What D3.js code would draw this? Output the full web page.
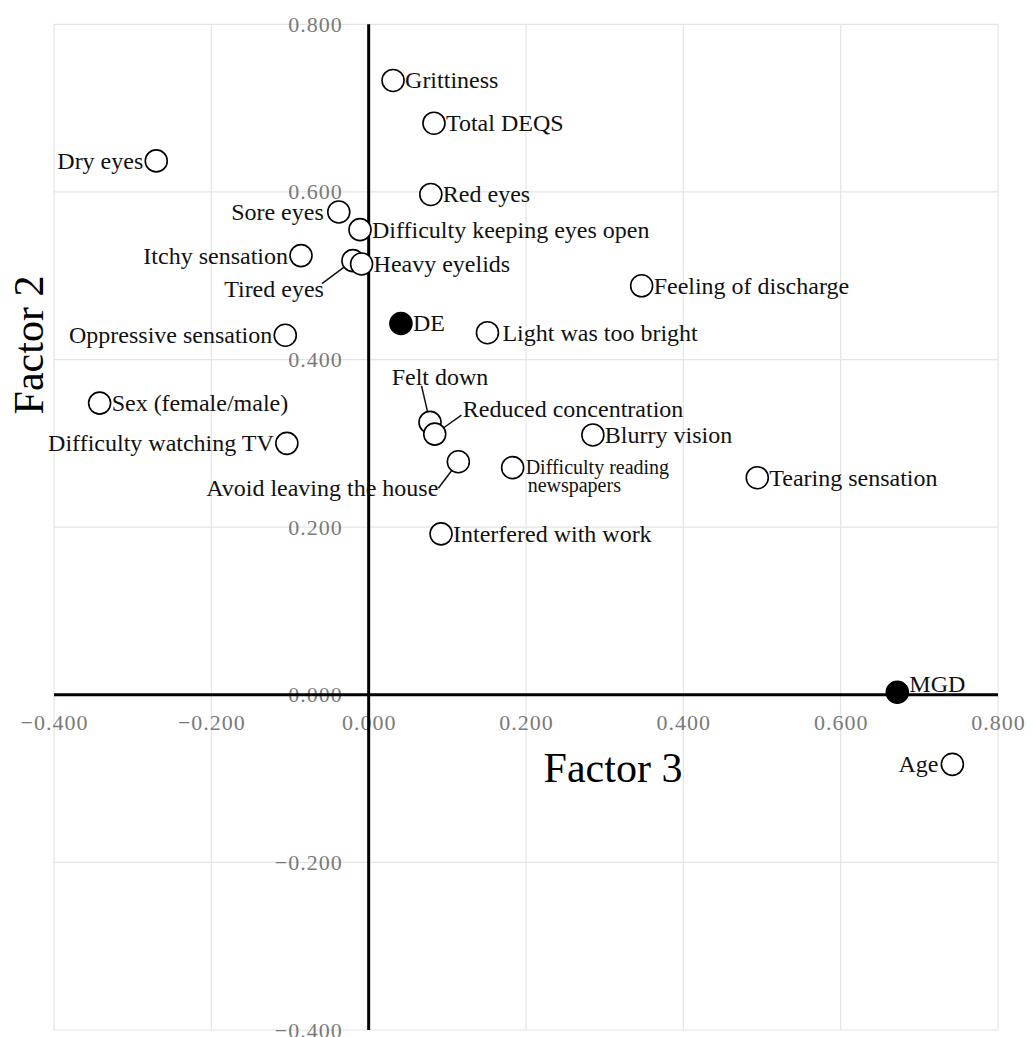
<!DOCTYPE html>
<html>
<head>
<meta charset="utf-8">
<script src="https://cdn.jsdelivr.net/npm/d3@7"></script>
<style>
  html, body { margin: 0; padding: 0; background: #fff; }
  svg { display: block; }
  text { font-family: "Liberation Serif", "Times New Roman", serif; }
</style>
</head>
<body>
<script>
// ---------- data ----------
const categories = [
  "Grittiness", "Total DEQS", "Dry eyes", "Red eyes", "Sore eyes",
  "Difficulty keeping eyes open", "Itchy sensation", "Tired eyes", "Heavy eyelids",
  "DE", "Light was too bright", "Oppressive sensation", "Feeling of discharge",
  "Sex (female/male)", "Difficulty watching TV", "Felt down", "Reduced concentration",
  "Avoid leaving the house", "Difficulty reading newspapers", "Interfered with work",
  "Blurry vision", "Tearing sensation", "MGD", "Age"
];
const factor3 = [
  0.031, 0.083, -0.270, 0.079, -0.038,
  -0.011, -0.086, -0.020, -0.009,
  0.041, 0.151, -0.106, 0.347,
  -0.342, -0.104, 0.078, 0.084,
  0.114, 0.183, 0.092,
  0.285, 0.494, 0.672, 0.742
];
const factor2 = [
  0.733, 0.682, 0.637, 0.597, 0.576,
  0.555, 0.524, 0.518, 0.514,
  0.443, 0.432, 0.429, 0.488,
  0.348, 0.300, 0.325, 0.311,
  0.278, 0.271, 0.192,
  0.310, 0.259, 0.003, -0.083
];
const filledItems = ["DE", "MGD"];
const xTicks = [-0.4, -0.2, 0, 0.2, 0.4, 0.6, 0.8];
const yTicks = [-0.4, -0.2, 0, 0.2, 0.4, 0.6, 0.8];
const xTitle = "Factor 3";
const yTitle = "Factor 2";

// ---------- label layout (positions only) ----------
const labelLayout = {
  "Dry eyes": { anchor: "end", dx: -13 },
  "Sore eyes": { anchor: "end", dx: -15 },
  "Itchy sensation": { anchor: "end", dx: -13 },
  "Tired eyes": { anchor: "end", dx: -29, dy: 36, leader: [-31, 23] },
  "Oppressive sensation": { anchor: "end", dx: -13 },
  "Difficulty watching TV": { anchor: "end", dx: -13 },
  "Felt down": { anchor: "middle", dx: 10, dy: -37, leader: [-8.5, -36.5] },
  "Reduced concentration": { anchor: "start", dx: 28, dy: -17, leader: [26.7, -19] },
  "Avoid leaving the house": { anchor: "end", dx: -20, dy: 34, leader: [-20, 26.5] },
  "Difficulty reading newspapers": { lines: [["Difficulty reading", 13, 6], ["newspapers", 15, 24]], size: 20 },
  "Light was too bright": { anchor: "start", dx: 15 },
  "MGD": { anchor: "start", dx: 12, dy: 0 },
  "Age": { anchor: "end", dx: -14 }
};

// ---------- chart ----------
const W = 1033, H = 1037;
const x = d3.scaleLinear().domain([-0.4, 0.8]).range([54, 998]);
const y = d3.scaleLinear().domain([-0.4, 0.8]).range([1030, 24.3]);
const R = 11;

const svg = d3.select("body").append("svg").attr("width", W).attr("height", H);

// grid
const grid = svg.append("g");
grid.selectAll("line.vx").data(xTicks).join("line")
  .attr("x1", d => x(d)).attr("x2", d => x(d))
  .attr("y1", y(0.8)).attr("y2", y(-0.4))
  .attr("stroke", "#e4e4e4").attr("stroke-width", 1.2);
grid.selectAll("line.hy").data(yTicks).join("line")
  .attr("y1", d => y(d)).attr("y2", d => y(d))
  .attr("x1", x(-0.4)).attr("x2", x(0.8))
  .attr("stroke", "#e4e4e4").attr("stroke-width", 1.2);

// tick labels via axes
const fmt = d3.format(".3f");
const yAxis = svg.append("g").attr("transform", `translate(${x(0)},0)`)
  .call(d3.axisLeft(y).tickValues(yTicks).tickFormat(fmt).tickSize(0).tickPadding(26));
const xAxis = svg.append("g").attr("transform", `translate(0,${y(0)})`)
  .call(d3.axisBottom(x).tickValues(xTicks).tickFormat(fmt).tickSize(0).tickPadding(20));
[xAxis, yAxis].forEach(a => {
  a.select(".domain").remove();
  a.selectAll("text")
    .attr("fill", "#7a7a7a")
    .style("font-family", '"Liberation Serif", "Times New Roman", serif')
    .style("font-size", "22px")
    .style("letter-spacing", "1px");
});

// main axes lines
svg.append("line")
  .attr("x1", x(-0.4)).attr("x2", x(0.8)).attr("y1", y(0)).attr("y2", y(0))
  .attr("stroke", "#000").attr("stroke-width", 3);
svg.append("line")
  .attr("x1", x(0)).attr("x2", x(0)).attr("y1", y(0.8)).attr("y2", y(-0.4))
  .attr("stroke", "#000").attr("stroke-width", 3);

// titles
svg.append("text").text(xTitle)
  .attr("x", 613).attr("y", 782).attr("text-anchor", "middle")
  .style("font-size", "42px").attr("fill", "#000");
svg.append("text").text(yTitle)
  .attr("transform", "translate(43,345) rotate(-90)").attr("text-anchor", "middle")
  .style("font-size", "42px").attr("fill", "#000");

// data rows
const rows = categories.map((c, i) => ({ name: c, fx: factor3[i], fy: factor2[i] }));

// leader lines
const lg = svg.append("g");
rows.forEach(d => {
  const L = labelLayout[d.name];
  if (!L || !L.leader) return;
  const cx = x(d.fx), cy = y(d.fy);
  const [lx, ly] = L.leader;
  const len = Math.hypot(lx, ly);
  lg.append("line")
    .attr("x1", cx + lx).attr("y1", cy + ly)
    .attr("x2", cx + lx / len * R).attr("y2", cy + ly / len * R)
    .attr("stroke", "#111").attr("stroke-width", 1.5);
});

// points
svg.append("g").selectAll("circle").data(rows).join("circle")
  .attr("cx", d => x(d.fx)).attr("cy", d => y(d.fy)).attr("r", R)
  .attr("fill", d => filledItems.includes(d.name) ? "#000" : "#fff")
  .attr("stroke", "#000").attr("stroke-width", 1.6);

// labels
const tg = svg.append("g");
rows.forEach(d => {
  const L = labelLayout[d.name] || {};
  const cx = x(d.fx), cy = y(d.fy);
  if (L.lines) {
    L.lines.forEach(([t, dx, dy]) => {
      tg.append("text").text(t)
        .attr("x", cx + dx).attr("y", cy + dy)
        .style("font-size", (L.size || 24) + "px").attr("fill", "#111");
    });
    return;
  }
  tg.append("text").text(d.name)
    .attr("x", cx + (L.dx !== undefined ? L.dx : 12))
    .attr("y", cy + (L.dy !== undefined ? L.dy : 8))
    .attr("text-anchor", L.anchor || "start")
    .style("font-size", "24px").attr("fill", "#111");
});
</script>
</body>
</html>
